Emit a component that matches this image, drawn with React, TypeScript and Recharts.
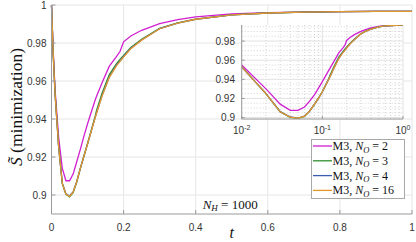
import React from 'react';
import { LineChart, Line, XAxis, YAxis, CartesianGrid, Legend } from 'recharts';

// ---- data ----
const tValues = [0, 0.005, 0.01, 0.02, 0.03, 0.04, 0.05, 0.06, 0.07, 0.08, 0.09, 0.1, 0.12, 0.125, 0.14, 0.16, 0.18, 0.19, 0.2, 0.22, 0.25, 0.3, 0.35, 0.4, 0.5, 0.6, 0.7, 0.8, 0.9, 1];
const sNO2 = [1, 0.975, 0.955, 0.93, 0.914, 0.9075, 0.9075, 0.911, 0.9175, 0.924, 0.931, 0.9375, 0.9493, 0.952, 0.959, 0.9677, 0.9728, 0.9755, 0.9806, 0.9837, 0.9867, 0.9902, 0.9923, 0.9937, 0.9953, 0.996, 0.9963, 0.9965, 0.9966, 0.9966];
const sNO3 = [1, 0.973, 0.953, 0.925, 0.906, 0.9003, 0.899, 0.9012, 0.907, 0.914, 0.9205, 0.927, 0.9405, 0.9445, 0.9535, 0.9632, 0.969, 0.9714, 0.9735, 0.9776, 0.982, 0.9877, 0.9906, 0.9926, 0.9948, 0.9958, 0.9963, 0.9965, 0.9966, 0.9966];
const sNO4 = [1, 0.973, 0.953, 0.925, 0.9062, 0.9006, 0.8995, 0.9016, 0.907, 0.914, 0.9205, 0.927, 0.9402, 0.9432, 0.9522, 0.962, 0.9683, 0.9705, 0.9729, 0.9772, 0.9816, 0.9876, 0.9905, 0.9925, 0.9948, 0.9958, 0.9963, 0.9965, 0.9966, 0.9966];
const sNO16 = [1, 0.973, 0.953, 0.925, 0.906, 0.9005, 0.8993, 0.9015, 0.907, 0.914, 0.9205, 0.927, 0.94, 0.943, 0.952, 0.9618, 0.968, 0.9703, 0.9727, 0.977, 0.9815, 0.9875, 0.9905, 0.9925, 0.9948, 0.9958, 0.9963, 0.9965, 0.9966, 0.9966];

const noValues = [2, 3, 4, 16];
const seriesKeys = ['no2', 'no3', 'no4', 'no16'];
const seriesColors = ['#d01fd0', '#2f8f2f', '#3a5bb0', '#e3982b'];

const xTicksMain = [0, 0.2, 0.4, 0.6, 0.8, 1];
const yTicksMain = [0.9, 0.92, 0.94, 0.96, 0.98, 1];
const insetXTicks = [0.01, 0.1, 1];
const insetYTicks = [0.9, 0.92, 0.94, 0.96, 0.98];
const insetMinorX = [0.02, 0.03, 0.04, 0.05, 0.06, 0.07, 0.08, 0.09, 0.2, 0.3, 0.4, 0.5, 0.6, 0.7, 0.8, 0.9];
const insetMinorY = [0.905, 0.91, 0.915, 0.925, 0.93, 0.935, 0.945, 0.95, 0.955, 0.965, 0.97, 0.975, 0.985, 0.99, 0.995];

const seriesValues = [sNO2, sNO3, sNO4, sNO16];
const mainData = tValues.map((t, i) => {
  const row: any = { t };
  seriesKeys.forEach((k, j) => { row[k] = seriesValues[j][i]; });
  return row;
});
const insetData = mainData.filter((r) => r.t >= 0.01);

const AXIS = '#9a9a9a';
const TICK_TEXT = { fill: '#333', fontSize: 10, fontFamily: 'Liberation Sans, Arial, sans-serif' };
const fmt = (v: number) => String(v);

const LogTick = (props: any) => {
  const { x, y, payload } = props;
  const exp = Math.round(Math.log10(payload.value));
  return (
    <text x={x} y={y} textAnchor="middle" fontFamily="Liberation Sans, Arial, sans-serif" fontSize={10} fill="#333">
      <tspan dy="0.71em">10</tspan>
      <tspan dy={-4.5} fontSize={7}>{String(exp)}</tspan>
    </text>
  );
};

const renderLegend = (props: any) => {
  const payload = props.payload || [];
  const colorOf = (k: string, i: number) => {
    const e = payload.find((p: any) => p.dataKey === k);
    return e && e.color ? e.color : seriesColors[i];
  };
  return (
    <svg width={94} height={60} style={{ display: 'block' }}>
      <rect x={0.5} y={0.5} width={93} height={59} fill="#fff" stroke="#a8a8a8" />
      {seriesKeys.map((k, i) => {
        const cy = 7 + i * 14.8;
        return (
          <g key={k}>
            <line x1={2} x2={21} y1={cy} y2={cy} stroke={colorOf(k, i)} strokeWidth={1.3} />
            <text x={21.5} y={cy + 4} fontFamily="Liberation Serif, serif" fontSize={12} fill="#111">
              M3,{' '}
              <tspan fontStyle="italic">N</tspan>
              <tspan fontStyle="italic" fontSize={8.5} dy={2.5}>O</tspan>
              <tspan dy={-2.5}>{' = ' + noValues[i]}</tspan>
            </text>
          </g>
        );
      })}
    </svg>
  );
};

export default function App() {
  return (
    <div style={{ position: 'absolute', left: 0, top: 0, width: 416, height: 242, background: '#fff', overflow: 'hidden' }}>
      <div style={{ position: 'absolute', left: 0, top: 0 }}>
        <LineChart width={416} height={242} data={mainData} margin={{ top: 5, right: 4, bottom: 0, left: 0 }}>
          <CartesianGrid stroke="#e6e6e6" horizontalValues={yTicksMain} verticalValues={xTicksMain} />
          <XAxis dataKey="t" type="number" domain={[0, 1]} ticks={xTicksMain} interval={0} height={28}
            tickSize={-4} tickMargin={13.5} stroke={AXIS} tick={TICK_TEXT} tickFormatter={fmt} />
          <XAxis xAxisId="top" orientation="top" dataKey="t" type="number" domain={[0, 1]} ticks={xTicksMain}
            interval={0} height={0} tickSize={-4} tick={false} stroke={AXIS} />
          <YAxis type="number" domain={[0.89, 1]} ticks={yTicksMain} interval={0} width={51.5}
            tickSize={-4} tickMargin={9} stroke={AXIS} tick={TICK_TEXT} tickFormatter={fmt} />
          <YAxis yAxisId="right" orientation="right" type="number" domain={[0.89, 1]} ticks={yTicksMain}
            interval={0} width={0} tickSize={-4} tick={false} stroke={AXIS} />
          {seriesKeys.map((k, i) => (
            <Line key={k} dataKey={k} name={'M3, N_O = ' + noValues[i]} type="linear" stroke={seriesColors[i]}
              strokeWidth={1.3} dot={false} isAnimationActive={false} />
          ))}
          <Legend layout="vertical" align="center" verticalAlign="middle" content={renderLegend}
            wrapperStyle={{ left: 311, top: 139, width: 94, height: 60 }} />
        </LineChart>
      </div>

      <div style={{ position: 'absolute', left: 195, top: 15 }}>
        <LineChart width={217} height={125} data={insetData} margin={{ top: 10, right: 9, bottom: 0, left: 0 }}>
          <CartesianGrid fill="#fff" fillOpacity={1} stroke="#d4d4d4" strokeDasharray="1 2"
            horizontalValues={insetMinorY} verticalValues={insetMinorX} />
          <CartesianGrid stroke="#e2e2e2" horizontalValues={insetYTicks} verticalValues={insetXTicks} />
          <XAxis dataKey="t" type="number" scale="log" domain={[0.01, 1]} allowDataOverflow ticks={insetXTicks}
            interval={0} height={21} tickSize={-3} tickMargin={10.9} stroke={AXIS} tick={<LogTick />} />
          <XAxis xAxisId="top" orientation="top" dataKey="t" type="number" scale="log" domain={[0.01, 1]}
            allowDataOverflow ticks={insetXTicks} interval={0} height={0} tickSize={-3} tick={false} stroke={AXIS} />
          <YAxis type="number" domain={[0.8985, 0.9968]} allowDataOverflow ticks={insetYTicks} interval={0}
            width={46.7} tickSize={-3} tickMargin={9.7} stroke={AXIS} tick={TICK_TEXT} tickFormatter={fmt} />
          <YAxis yAxisId="right" orientation="right" type="number" domain={[0.8985, 0.9968]} allowDataOverflow
            ticks={insetYTicks} interval={0} width={0} tickSize={-3} tick={false} stroke={AXIS} />
          {seriesKeys.map((k, i) => (
            <Line key={k} dataKey={k} type="linear" stroke={seriesColors[i]} strokeWidth={1.3} dot={false}
              isAnimationActive={false} />
          ))}
        </LineChart>
      </div>

      <svg width={416} height={242} style={{ position: 'absolute', left: 0, top: 0, pointerEvents: 'none' }}>
        <text transform="rotate(-90)" x={-107} y={22} textAnchor="middle" fontFamily="Liberation Serif, serif"
          fontSize={17.5} fill="#111">
          <tspan fontStyle="italic">{'S\u0303'}</tspan>
          <tspan>{' (minimization)'}</tspan>
        </text>
        <text x={231.7} y={238} textAnchor="middle" fontFamily="Liberation Serif, serif" fontStyle="italic"
          fontSize={16} fill="#111">t</text>
        <text x={202.7} y={208.5} fontFamily="Liberation Serif, serif" fontSize={13} fill="#111">
          <tspan fontStyle="italic">N</tspan>
          <tspan fontStyle="italic" fontSize={9} dy={2.5}>H</tspan>
          <tspan dy={-2.5}>{' = 1000'}</tspan>
        </text>
      </svg>
    </div>
  );
}
